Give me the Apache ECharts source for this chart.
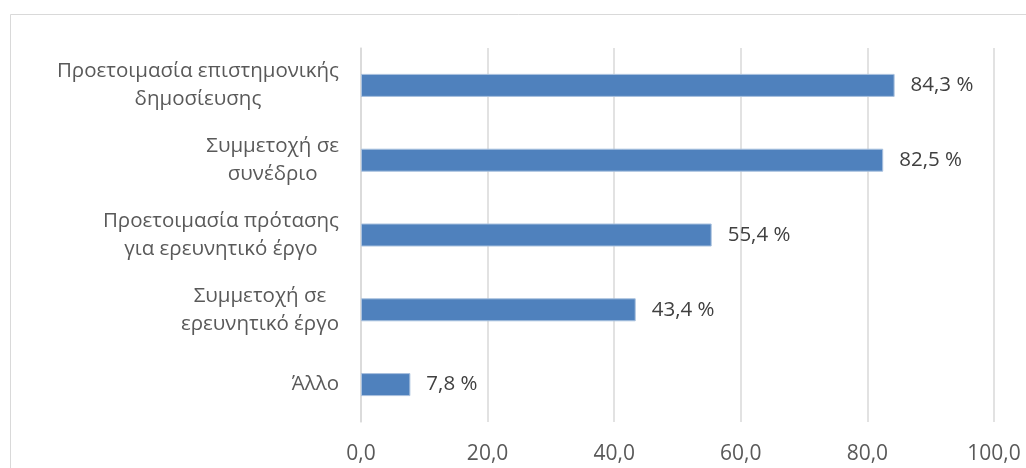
<!DOCTYPE html>
<html>
<head>
<meta charset="utf-8">
<script src="https://cdn.jsdelivr.net/npm/echarts@6/dist/echarts.min.js"></script>
<style>
html,body{margin:0;padding:0;background:#fff;}
#chart{width:1026px;height:468px;}
</style>
</head>
<body>
<div id="chart"></div>
<script>
const categories = [
  'Προετοιμασία επιστημονικής\nδημοσίευσης',
  'Συμμετοχή σε\nσυνέδριο',
  'Προετοιμασία πρότασης\nγια ερευνητικό έργο',
  'Συμμετοχή σε\nερευνητικό έργο',
  'Άλλο'
];
const values = [84.3, 82.5, 55.4, 43.4, 7.8];
const xTicks = { min: 0, max: 100, interval: 20 };

const FONT = '"Open Sans", "Noto Sans", sans-serif';
const fmt = v => v.toFixed(1).replace('.', ',');

const chart = echarts.init(document.getElementById('chart'), null, { renderer: 'canvas' });
chart.setOption({
  animation: false,
  backgroundColor: '#ffffff',
  graphic: [{
    type: 'rect',
    shape: { x: 10.5, y: 14.5, width: 1200, height: 1000 },
    style: { fill: 'none', stroke: '#d9d9d9', lineWidth: 1 },
    silent: true, z: 0
  }],
  grid: { left: 361, right: 32, top: 48, bottom: 46, containLabel: false },
  xAxis: {
    type: 'value',
    min: xTicks.min, max: xTicks.max, interval: xTicks.interval,
    axisLine: { show: false },
    axisTick: { show: false },
    splitLine: { show: true, lineStyle: { color: '#d9d9d9', width: 1.5 } },
    axisLabel: {
      color: '#595959', fontFamily: FONT, fontSize: 21, margin: 22,
      formatter: v => fmt(v)
    }
  },
  yAxis: {
    type: 'category',
    inverse: true,
    data: categories,
    axisLine: { show: true, lineStyle: { color: '#d9d9d9', width: 1.5 } },
    axisTick: { show: false },
    axisLabel: {
      margin: 22,
      align: 'right',
      color: '#595959', fontFamily: FONT, fontSize: 20.5, lineHeight: 28,
      formatter: v => v.split('\n').map(l => '{c|' + l + '}').join('\n'),
      rich: { c: { align: 'center', color: '#595959', fontFamily: FONT, fontSize: 20.5, lineHeight: 28 } }
    }
  },
  series: [{
    type: 'bar',
    data: values,
    barWidth: 23,
    itemStyle: { color: '#4f81bd', borderColor: '#a9c1de', borderWidth: 1 },
    label: {
      show: true, position: 'right', distance: 16,
      color: '#404040', fontFamily: FONT, fontSize: 20.5,
      formatter: p => fmt(p.value) + ' %'
    }
  }]
});
</script>
</body>
</html>
